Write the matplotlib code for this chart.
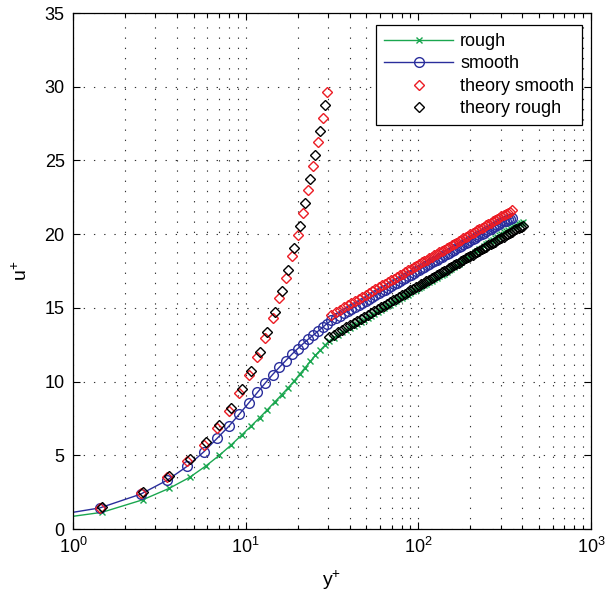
import matplotlib
matplotlib.use("Agg")
import numpy as np
from matplotlib import pyplot as plt
import matplotlib.ticker as ticker

plt.rcParams['font.family'] = ['Liberation Sans', 'DejaVu Sans']
plt.rcParams['mathtext.fontset'] = 'custom'
plt.rcParams['mathtext.rm'] = 'Liberation Sans'
plt.rcParams['mathtext.it'] = 'Liberation Sans'

# wall-normal positions (wall units)
yplus_smooth = [
    0.43, 1.43, 2.46, 3.51, 4.59, 5.70, 6.83, 8.00, 9.20, 10.43,
    11.69, 12.98, 14.30, 15.67, 17.06, 18.49, 19.96, 21.47, 23.02, 24.61,
    26.23, 27.91, 29.62, 31.38, 33.18, 35.03, 36.93, 38.88, 40.88, 42.93,
    45.04, 47.20, 49.42, 51.69, 54.02, 56.41, 58.87, 61.39, 63.97, 66.63,
    69.35, 72.14, 75.00, 77.94, 80.96, 84.05, 87.23, 90.48, 93.82, 97.25,
    100.8, 104.4, 108.1, 111.9, 115.8, 119.8, 123.9, 128.1, 132.4, 136.8,
    141.4, 146.1, 150.8, 155.7, 160.8, 166.0, 171.3, 176.7, 182.3, 188.0,
    193.9, 199.9, 206.1, 212.5, 219.0, 225.6, 232.5, 239.5, 246.8, 254.2,
    261.8, 269.5, 277.5, 285.8, 294.2, 302.8, 311.7, 320.8, 330.1, 339.7,
    349.5]
yplus_rough = [
    0.44, 1.47, 2.53, 3.61, 4.73, 5.87, 7.04, 8.24, 9.47, 10.74,
    12.04, 13.37, 14.73, 16.13, 17.57, 19.05, 20.56, 22.11, 23.71, 25.34,
    27.02, 28.74, 30.51, 32.32, 34.18, 36.09, 38.04, 40.05, 42.11, 44.22,
    46.39, 48.62, 50.90, 53.24, 55.64, 58.11, 60.64, 63.23, 65.89, 68.62,
    71.43, 74.30, 77.25, 80.28, 83.39, 86.57, 89.84, 93.20, 96.64, 100.2,
    103.8, 107.5, 111.3, 115.2, 119.3, 123.4, 127.6, 131.9, 136.4, 140.9,
    145.6, 150.4, 155.4, 160.4, 165.6, 170.9, 176.4, 182.0, 187.8, 193.7,
    199.7, 205.9, 212.3, 218.8, 225.5, 232.4, 239.5, 246.7, 254.2, 261.8,
    269.6, 277.6, 285.9, 294.3, 303.0, 311.9, 321.0, 330.4, 340.0, 349.9,
    360.0, 370.1, 380.5, 391.2, 402.2]

# velocity profiles
uplus_rough = [
    0.29, 1.13, 1.98, 2.76, 3.50, 4.27, 5.00, 5.70, 6.37, 6.98,
    7.55, 8.10, 8.62, 9.10, 9.57, 10.03, 10.50, 10.95, 11.38, 11.78,
    12.13, 12.45, 12.77, 12.97, 13.16, 13.34, 13.49, 13.64, 13.79, 13.93,
    14.07, 14.21, 14.34, 14.48, 14.61, 14.73, 14.86, 14.98, 15.10, 15.22,
    15.34, 15.45, 15.57, 15.68, 15.79, 15.90, 16.01, 16.12, 16.22, 16.33,
    16.43, 16.54, 16.64, 16.74, 16.84, 16.94, 17.04, 17.14, 17.23, 17.33,
    17.42, 17.54, 17.65, 17.77, 17.88, 17.99, 18.11, 18.22, 18.33, 18.44,
    18.55, 18.66, 18.77, 18.88, 18.99, 19.09, 19.20, 19.31, 19.42, 19.52,
    19.63, 19.74, 19.83, 19.93, 20.02, 20.12, 20.21, 20.30, 20.39, 20.47,
    20.55, 20.64, 20.72, 20.78, 20.82]
uplus_smooth = [
    0.43, 1.43, 2.36, 3.31, 4.26, 5.22, 6.15, 6.98, 7.80, 8.56,
    9.26, 9.90, 10.47, 10.97, 11.42, 11.85, 12.22, 12.56, 12.87, 13.15,
    13.42, 13.68, 13.94, 14.15, 14.32, 14.48, 14.63, 14.78, 14.93, 15.07,
    15.21, 15.35, 15.48, 15.62, 15.75, 15.87, 16.00, 16.12, 16.24, 16.36,
    16.48, 16.59, 16.71, 16.82, 16.93, 17.04, 17.15, 17.26, 17.36, 17.47,
    17.57, 17.68, 17.78, 17.88, 17.98, 18.08, 18.18, 18.28, 18.37, 18.47,
    18.56, 18.66, 18.75, 18.85, 18.94, 19.03, 19.13, 19.22, 19.31, 19.40,
    19.49, 19.58, 19.67, 19.76, 19.85, 19.93, 20.02, 20.11, 20.20, 20.28,
    20.37, 20.46, 20.54, 20.63, 20.71, 20.80, 20.86, 20.92, 21.00, 21.05,
    21.10]
theory_smooth = [
    0.43, 1.43, 2.46, 3.51, 4.59, 5.70, 6.83, 8.00, 9.20, 10.43,
    11.69, 12.98, 14.30, 15.67, 17.06, 18.49, 19.96, 21.47, 23.02, 24.61,
    26.23, 27.91, 29.62, 14.55, 14.72, 14.88, 15.03, 15.18, 15.33, 15.47,
    15.61, 15.75, 15.88, 16.02, 16.15, 16.27, 16.40, 16.52, 16.64, 16.76,
    16.88, 16.99, 17.11, 17.22, 17.33, 17.44, 17.55, 17.66, 17.76, 17.87,
    17.97, 18.08, 18.18, 18.28, 18.38, 18.48, 18.58, 18.68, 18.77, 18.87,
    18.96, 19.06, 19.15, 19.25, 19.34, 19.43, 19.53, 19.62, 19.71, 19.80,
    19.89, 19.98, 20.07, 20.16, 20.25, 20.33, 20.42, 20.51, 20.60, 20.68,
    20.77, 20.86, 20.94, 21.03, 21.11, 21.20, 21.28, 21.37, 21.45, 21.53,
    21.62]
theory_rough = [
    0.44, 1.47, 2.53, 3.61, 4.73, 5.87, 7.04, 8.24, 9.47, 10.74,
    12.04, 13.37, 14.73, 16.13, 17.57, 19.05, 20.56, 22.11, 23.71, 25.34,
    27.02, 28.74, 13.02, 13.19, 13.36, 13.52, 13.67, 13.82, 13.97, 14.11,
    14.25, 14.39, 14.52, 14.66, 14.79, 14.91, 15.04, 15.16, 15.28, 15.40,
    15.52, 15.63, 15.75, 15.86, 15.97, 16.08, 16.19, 16.30, 16.40, 16.51,
    16.61, 16.72, 16.82, 16.92, 17.02, 17.12, 17.22, 17.32, 17.41, 17.51,
    17.60, 17.70, 17.79, 17.89, 17.98, 18.07, 18.17, 18.26, 18.35, 18.44,
    18.53, 18.62, 18.71, 18.80, 18.89, 18.97, 19.06, 19.15, 19.24, 19.32,
    19.41, 19.50, 19.58, 19.67, 19.75, 19.84, 19.92, 20.01, 20.09, 20.17,
    20.26, 20.33, 20.42, 20.50, 20.58]

fig = plt.figure(figsize=(6.05, 6.07), dpi=100)
ax = fig.add_axes([0.1207, 0.1285, 0.8562, 0.8500])

ax.semilogx(yplus_rough, uplus_rough, '-x', color='#1aa64f', lw=1.0,
            ms=4, mew=1.0, label='rough')
ax.semilogx(yplus_smooth, uplus_smooth, '-o', color='#2a2e9c', lw=1.0,
            ms=7, mew=1.0, mfc='none', label='smooth')
ax.semilogx(yplus_smooth, theory_smooth, 'D', color='#ec1c24', ms=5.2,
            mew=1.0, mfc='none', label='theory smooth')
ax.semilogx(yplus_rough, theory_rough, 'D', color='black', ms=5.2,
            mew=1.0, mfc='none', label='theory rough')

ax.set_xlim(1, 1000)
ax.set_ylim(0, 35)
ax.yaxis.set_major_locator(ticker.MultipleLocator(5))
ax.xaxis.set_major_locator(ticker.LogLocator(base=10, numticks=10))
ax.xaxis.set_minor_locator(ticker.LogLocator(base=10, subs=np.arange(2, 10), numticks=10))
ax.xaxis.set_minor_formatter(ticker.NullFormatter())

ax.grid(True, which='major', color='0.2', lw=0.8, linestyle=(0, (1.2, 8)))
ax.grid(True, which='minor', axis='x', color='0.2', lw=0.8, linestyle=(0, (1.2, 8)))
ax.set_axisbelow(True)

ax.tick_params(which='both', direction='in', top=True, right=True,
               labelsize=13, width=0.8)
ax.tick_params(which='major', length=5, pad=6)
ax.tick_params(which='minor', length=3)
for s in ax.spines.values():
    s.set_linewidth(0.9)

ax.set_xlabel('y$^{+}$', fontsize=14, labelpad=8)
ax.set_ylabel('u$^{+}$', fontsize=14, labelpad=10)

leg = ax.legend(loc='upper right', fontsize=13, numpoints=1, handlelength=3.8,
                handletextpad=0.4, labelspacing=0.3, borderpad=0.45,
                borderaxespad=0, fancybox=False, framealpha=1, edgecolor='black',
                bbox_to_anchor=(0.983, 0.977))
leg.get_frame().set_linewidth(0.9)

fig.savefig('out.png', dpi=100)
